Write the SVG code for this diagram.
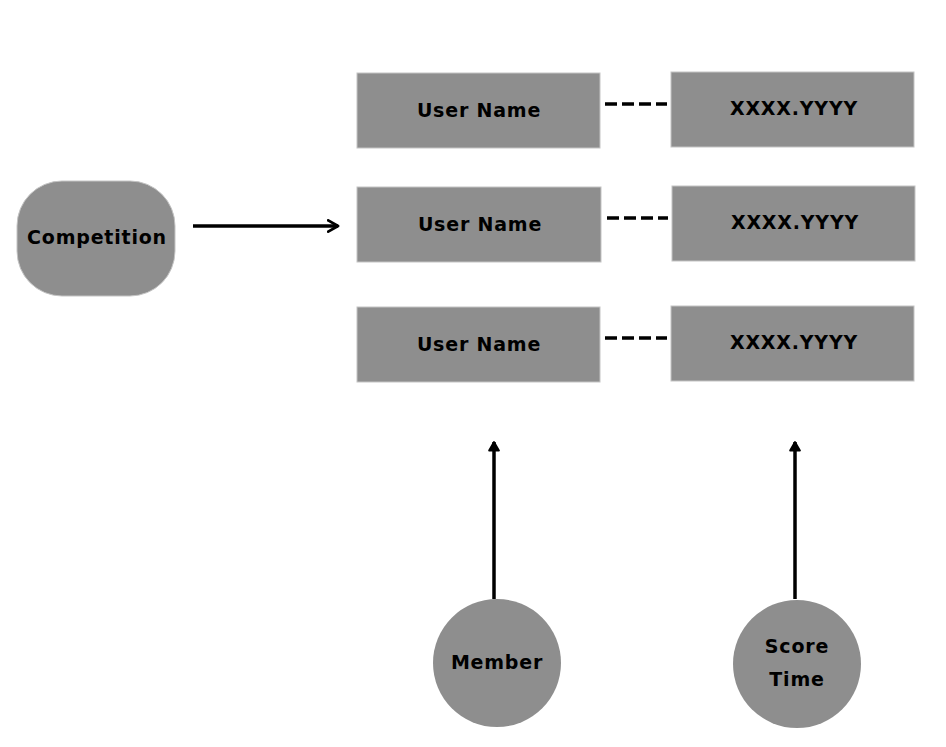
<svg xmlns="http://www.w3.org/2000/svg" width="946" height="747" viewBox="0 0 946 747">
<style>
.box{fill:#8e8e8e;stroke:#c4c4c4;stroke-width:1}
.t{font-family:"DejaVu Sans",sans-serif;font-weight:bold;font-size:19px;letter-spacing:0.8px;fill:#000;text-anchor:middle;dominant-baseline:central}
.ln{stroke:#000;stroke-width:3.5;fill:none}
.dash{stroke:#000;stroke-width:3.5;stroke-dasharray:12,5;fill:none}
</style>
<defs>
<marker id="ah" viewBox="0 0 10 10" refX="8" refY="5" markerWidth="4" markerHeight="4" orient="auto" markerUnits="strokeWidth">
<path d="M1,1 L8,5 L1,9" fill="none" stroke="#000" stroke-width="2" stroke-linecap="round" stroke-linejoin="round"/>
</marker>
<marker id="ah2" viewBox="0 0 10 10" refX="8" refY="5" markerWidth="3.5" markerHeight="3.5" orient="auto" markerUnits="strokeWidth">
<path d="M1,1 L8,5 L1,9 Z" fill="#000" stroke="#000" stroke-width="1.5" stroke-linejoin="round"/>
</marker>
</defs>
<rect width="946" height="747" fill="#fff"/>
<g id="competition"><rect class="box" x="17" y="181" width="158" height="115" rx="45" ry="45"/><text class="t" x="97" y="237">Competition</text></g>
<g id="user1"><rect class="box" x="357" y="73" width="243" height="75"/><text class="t" x="479" y="110">User Name</text></g>
<g id="user2"><rect class="box" x="357" y="187" width="244" height="75"/><text class="t" x="480" y="224">User Name</text></g>
<g id="user3"><rect class="box" x="357" y="307" width="243" height="75"/><text class="t" x="479" y="344">User Name</text></g>
<g id="score1"><rect class="box" x="671" y="72" width="243" height="75"/><text class="t" x="794" y="108">XXXX.YYYY</text></g>
<g id="score2"><rect class="box" x="672" y="186" width="243" height="75"/><text class="t" x="795" y="222">XXXX.YYYY</text></g>
<g id="score3"><rect class="box" x="671" y="306" width="243" height="75"/><text class="t" x="794" y="342">XXXX.YYYY</text></g>
<g id="member"><circle cx="497" cy="663" r="64" fill="#8e8e8e"/><text class="t" x="497" y="662">Member</text></g>
<g id="scoretime"><circle cx="797" cy="664" r="64" fill="#8e8e8e"/><text class="t" x="797" y="646">Score</text><text class="t" x="797" y="679">Time</text></g>
<g id="connectors">
<line class="ln" x1="193" y1="226" x2="338" y2="226" marker-end="url(#ah)"/>
<line class="dash" x1="605" y1="104" x2="667" y2="104"/>
<line class="dash" x1="607" y1="218" x2="668" y2="218"/>
<line class="dash" x1="605" y1="338" x2="667" y2="338"/>
<line class="ln" x1="494" y1="599" x2="494" y2="442" marker-end="url(#ah2)"/>
<line class="ln" x1="795" y1="599" x2="795" y2="442" marker-end="url(#ah2)"/>
</g>
</svg>
